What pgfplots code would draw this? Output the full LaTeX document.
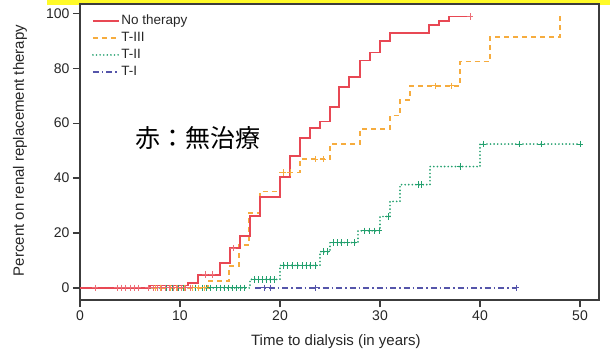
\documentclass[border=0pt]{standalone}
\usepackage{fontspec}
\setmainfont{Liberation Sans}
\newfontfamily\cjk{Noto Sans CJK JP}
\usepackage{pgfplots}
\pgfplotsset{compat=1.18}
\definecolor{cRed}{RGB}{232,72,84}
\definecolor{cOrange}{RGB}{246,172,62}
\definecolor{cGreen}{RGB}{35,160,110}
\definecolor{cBlue}{RGB}{85,85,170}
\definecolor{cFrame}{RGB}{60,60,60}
\definecolor{cYellow}{RGB}{255,250,40}
\begin{document}
\begin{tikzpicture}[x=1pt,y=1pt]
\useasboundingbox (0,0) rectangle (610,354);
\fill[cYellow] (47,349) rectangle (610,354);
\begin{axis}[
  at={(80pt,54pt)}, anchor=south west,
  width=519pt, height=296pt, scale only axis,
  xmin=0, xmax=51.9, ymin=-4.4, ymax=103.4,
  axis line style={cFrame, line width=1.5pt},
  tick style={cFrame, line width=1.3pt},
  tick align=outside, tick pos=left, major tick length=7pt,
  xtick={0,10,...,50}, ytick={0,20,...,100},
  ticklabel style={font=\fontsize{14}{14}\selectfont, text=black!85},
  /pgf/number format/assume math mode=true,
  xlabel={Time to dialysis (in years)},
  ylabel={Percent on renal replacement therapy},
  label style={font=\fontsize{15}{15}\selectfont, text=black!85},
  xlabel style={at={(axis description cs:0.493,-0.14)}, anchor=center},
  ylabel style={at={(axis description cs:-0.1156,0.505)}, anchor=center},
  legend style={draw=none, fill=none, at={(axis description cs:0.017,0.9763)}, anchor=north west,
    font=\fontsize{13.5}{13.5}\selectfont, row sep=1.5pt,
    nodes={inner sep=1.5pt, text height=9.5pt, text depth=3pt, text=black!85}},
  legend cell align=left,
  legend image code/.code={\draw[#1, line width=1.8pt] (0pt,0pt) -- (26pt,0pt);},
  reverse legend,
]
% T-I
\addplot[cBlue, line width=1.4pt, dash pattern=on 6pt off 3pt on 1.5pt off 3pt] coordinates {(17.5,0) (43.6,0)};
\addlegendentry{T-I}
% T-II
\addplot[cGreen, line width=1.9pt, line cap=round, dash pattern=on 0pt off 3.6pt, const plot] coordinates {
(0,0) (17,3.1) (20,8.2) (24,13.2) (25,16.5) (27.8,20.8) (30,26) (31,31.5) (32,37.6) (35,44.2) (40,52.4) (50,52.4)};
\addlegendentry{T-II}
% T-III
\addplot[cOrange, line width=1.5pt, dash pattern=on 5pt off 4pt, const plot] coordinates {
(0,0) (12.8,2.5) (14.9,7.9) (15.9,15.7) (16.9,27.2) (18,35.1) (20,42.1) (22,46.9) (25,52.5) (28,57.8) (31,62.8) (32,68.5) (33,73.6) (38,82.4) (41,91.3) (48,100)};
\addlegendentry{T-III}
% No therapy
\addplot[cRed, line width=1.6pt, const plot] coordinates {
(0,0) (7,0.9) (10.8,1.8) (11.8,4.8) (14,9.1) (15,14.5) (16,19) (17,26.3) (18,33.1) (20,40.3) (21,48.1) (22,54.5) (23,58.2) (24,60.6) (25,65.8) (25.9,73.1) (26.9,76.9) (28,82.8) (29,85.7) (30,89.9) (31,92.9) (34.9,95.7) (35.9,97.3) (36.9,98.8) (39,98.8)};
\addlegendentry{No therapy}
% censor marks
\addplot[forget plot, only marks, mark=+, mark size=3.3pt, cBlue, line width=0.9pt] coordinates {(18.4,0) (19.0,0) (23.5,0) (43.6,0)};
\addplot[forget plot, only marks, mark=+, mark size=3.3pt, cGreen, line width=1pt] coordinates {
(8.0,0) (8.6,0) (9.2,0) (9.8,0) (10.3,0) (11.0,0) (11.5,0) (12.2,0) (12.6,0) (13.0,0) (13.6,0) (14.0,0) (14.4,0) (14.8,0) (15.2,0) (15.6,0) (16.0,0) (16.4,0)
(17.4,3.1) (17.8,3.1) (18.2,3.1) (18.6,3.1) (19.0,3.1) (19.4,3.1)
(20.3,8.2) (20.7,8.2) (21.2,8.2) (21.7,8.2) (22.2,8.2) (22.6,8.2) (23.0,8.2) (23.5,8.2)
(24.3,13.2) (24.7,13.2)
(25.3,16.5) (25.7,16.5) (26.1,16.5) (26.7,16.5) (27.4,16.5)
(28.4,20.8) (28.9,20.8) (29.4,20.8) (29.9,20.8)
(30.8,26) (33.8,37.6) (34.1,37.6) (38,44.2)
(40.3,52.4) (43.9,52.4) (46.1,52.4) (50,52.4)};
\addplot[forget plot, only marks, mark=+, mark size=3.3pt, cOrange, line width=0.9pt] coordinates {
(7.5,0) (8.0,0) (9.0,0) (9.6,0) (10.4,0) (11.2,0) (11.8,0) (12.4,0)
(20.3,42.1) (21.0,42.1) (23.5,46.9) (24.3,46.9) (35.5,73.6) (37.1,73.6)};
\addplot[forget plot, only marks, mark=+, mark size=3.3pt, cRed!80, line width=0.9pt] coordinates {
(1.5,0) (3.7,0) (4.1,0) (4.5,0) (5.0,0) (5.4,0) (5.8,0) (6.8,0) (7.3,0) (7.7,0) (8.1,0) (8.5,0) (8.9,0) (9.3,0) (9.7,0) (10.1,0) (10.5,0) (11.0,0)
(12.5,4.8) (13.2,4.8) (15.3,14.5) (39,98.8)};
\node[font=\cjk\fontsize{25}{25}\selectfont, anchor=center] at (axis cs:11.75,54.7) {赤：無治療};
\end{axis}
\end{tikzpicture}
\end{document}
